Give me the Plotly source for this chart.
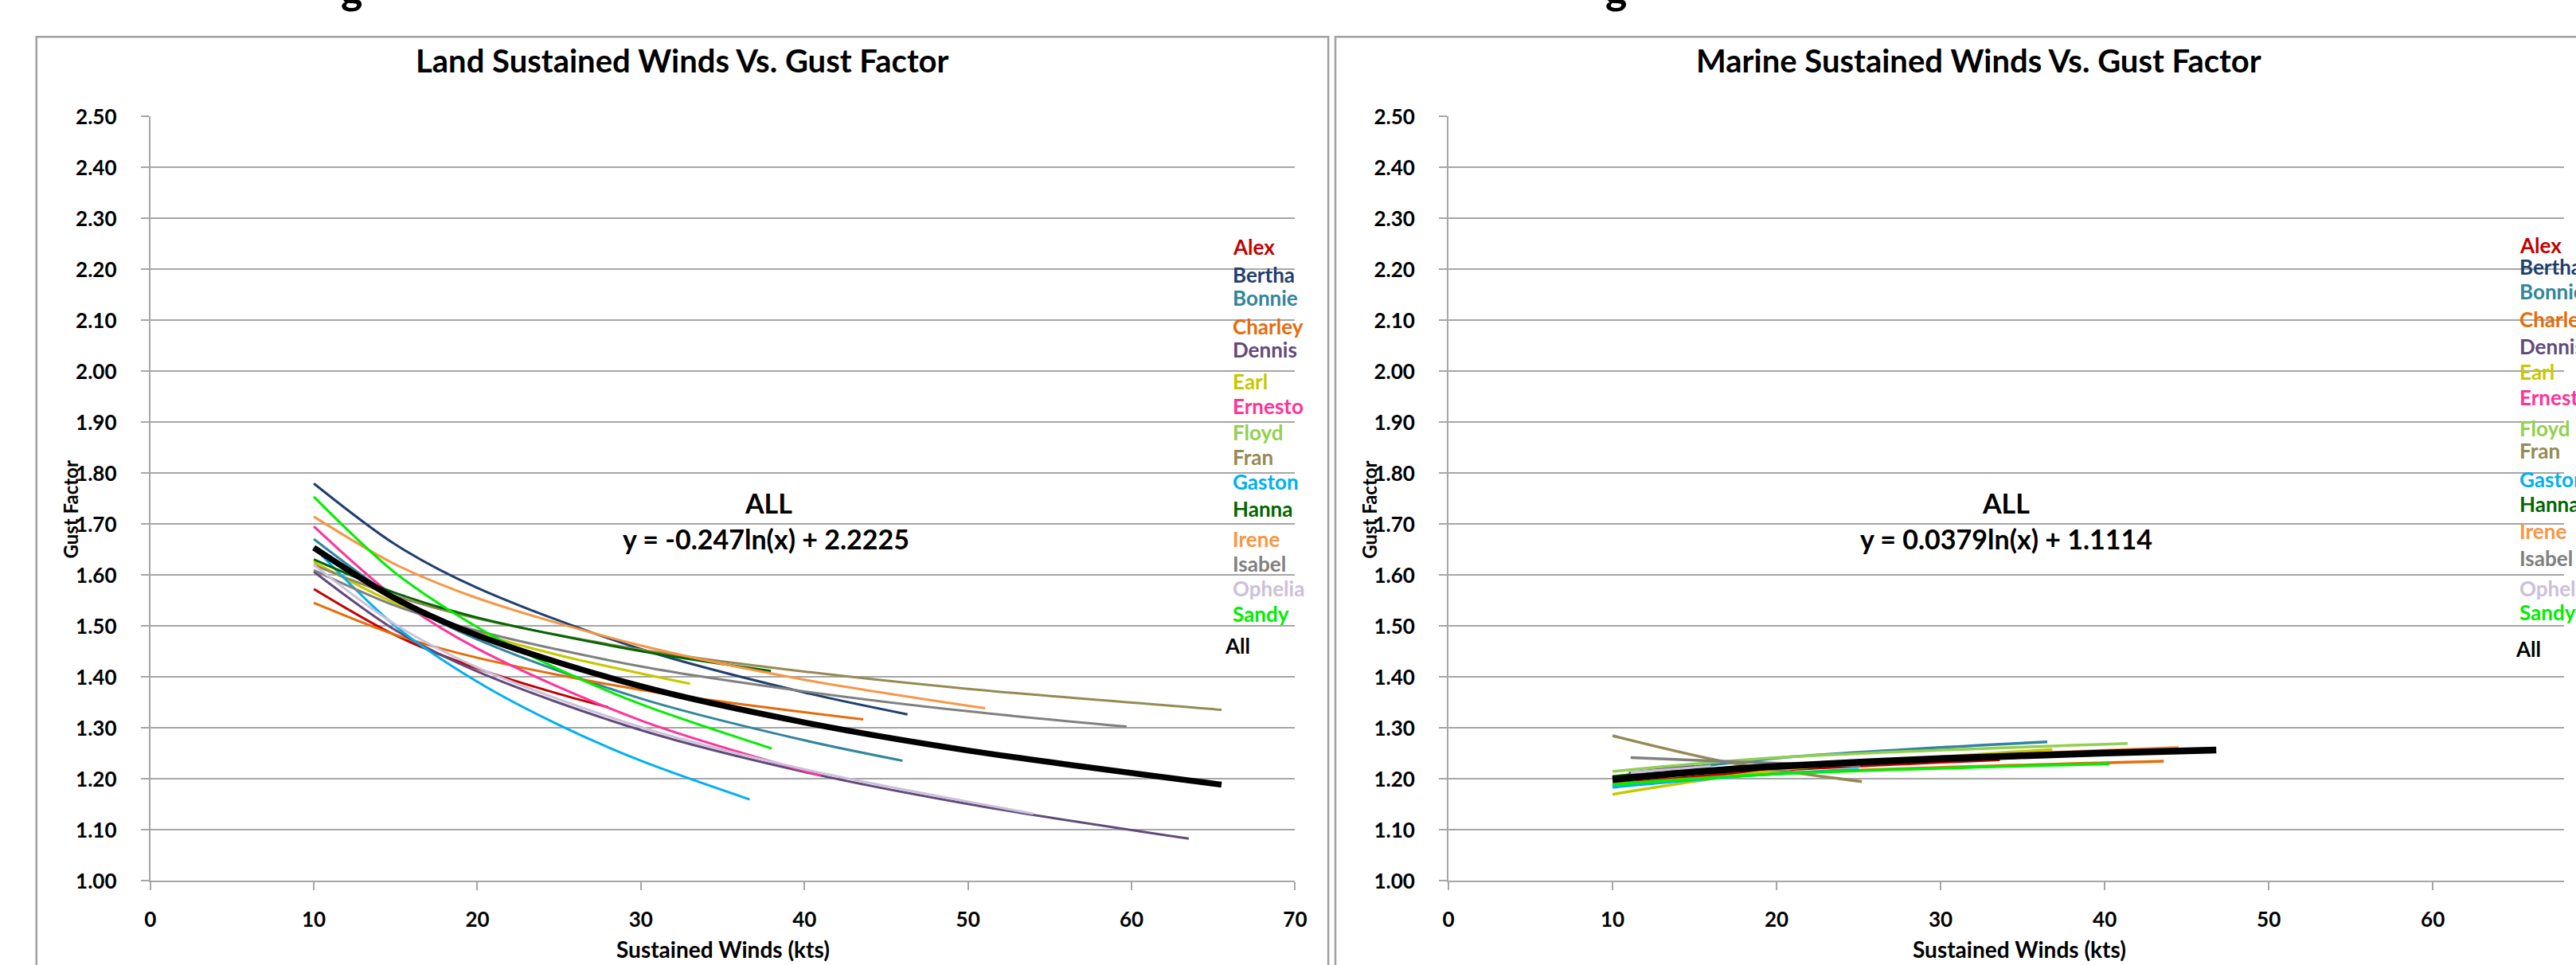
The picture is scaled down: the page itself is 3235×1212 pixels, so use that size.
import plotly.graph_objects as go

# ---------------- data ----------------
STORMS = ["Alex", "Bertha", "Bonnie", "Charley", "Dennis", "Earl", "Ernesto", "Floyd",
          "Fran", "Gaston", "Hanna", "Irene", "Isabel", "Ophelia", "Sandy", "All"]
STORM_COLORS = ["#C00000", "#1F3F6E", "#31859C", "#E46C0A", "#604A7B", "#C8C800", "#FF3399", "#92D050",
                "#948A54", "#00B0F0", "#006600", "#F79646", "#808080", "#CCC0DA", "#00EE00", "#000000"]

X_TICKS = [0, 10, 20, 30, 40, 50, 60, 70]

# Land trend curves (x = sustained winds, y = gust factor)
land_alex_x = [10, 15, 20, 25, 28]
land_alex_y = [1.573, 1.482, 1.417, 1.367, 1.341]
land_bertha_x = [10, 15, 20, 30, 40, 46.3]
land_bertha_y = [1.780, 1.660, 1.575, 1.455, 1.370, 1.327]
land_bonnie_x = [10, 15, 20, 30, 40, 46]
land_bonnie_y = [1.671, 1.555, 1.474, 1.358, 1.276, 1.236]
land_charley_x = [10, 15, 20, 30, 43.6]
land_charley_y = [1.546, 1.483, 1.438, 1.375, 1.317]
land_dennis_x = [10, 15, 20, 30, 40, 50, 63.5]
land_dennis_y = [1.607, 1.492, 1.411, 1.296, 1.214, 1.151, 1.083]
land_earl_x = [10, 15, 20, 25, 33]
land_earl_y = [1.626, 1.545, 1.487, 1.443, 1.387]
land_ernesto_x = [10, 15, 20, 30, 41]
land_ernesto_y = [1.696, 1.556, 1.456, 1.315, 1.207]
land_fran_x = [10, 15, 20, 30, 40, 50, 65.5]
land_fran_y = [1.620, 1.559, 1.515, 1.454, 1.411, 1.377, 1.336]
land_gaston_x = [10, 15, 20, 25, 30, 36.65]
land_gaston_y = [1.655, 1.500, 1.391, 1.306, 1.236, 1.160]
land_hanna_x = [10, 15, 20, 30, 37.95]
land_hanna_y = [1.631, 1.565, 1.517, 1.451, 1.412]
land_irene_x = [10, 15, 20, 30, 40, 51.05]
land_irene_y = [1.715, 1.621, 1.555, 1.462, 1.395, 1.339]
land_isabel_x = [10, 15, 20, 30, 40, 50, 59.7]
land_isabel_y = [1.610, 1.540, 1.491, 1.421, 1.372, 1.333, 1.303]
land_ophelia_x = [10, 15, 20, 30, 40, 54]
land_ophelia_y = [1.620, 1.503, 1.419, 1.302, 1.219, 1.132]
land_sandy_x = [10, 15, 20, 25, 30, 38]
land_sandy_y = [1.754, 1.604, 1.498, 1.415, 1.347, 1.260]
land_all_x = [10, 15, 20, 30, 40, 50, 65.5]
land_all_y = [1.654, 1.554, 1.482, 1.382, 1.311, 1.256, 1.189]

# Marine trend curves
marine_alex_x = [10, 20, 33.6]
marine_alex_y = [1.190, 1.217, 1.238]
marine_bonnie_x = [10, 20, 36.5]
marine_bonnie_y = [1.204, 1.241, 1.273]
marine_charley_x = [10, 20, 43.6]
marine_charley_y = [1.190, 1.211, 1.235]
marine_dennis_x = [11, 15]
marine_dennis_y = [1.212, 1.227]
marine_earl_x = [10, 20, 36.8]
marine_earl_y = [1.170, 1.217, 1.258]
marine_floyd_x = [10, 20, 41.4]
marine_floyd_y = [1.215, 1.242, 1.270]
marine_fran_x = [10, 17, 25.2]
marine_fran_y = [1.285, 1.233, 1.195]
marine_gaston_x = [10, 18, 25]
marine_gaston_y = [1.184, 1.206, 1.219]
marine_hanna_x = [10, 15]
marine_hanna_y = [1.205, 1.220]
marine_irene_x = [10, 20, 44.5]
marine_irene_y = [1.195, 1.226, 1.262]
marine_isabel_x = [11.1, 18, 25.1]
marine_isabel_y = [1.242, 1.233, 1.226]
marine_ophelia_x = [11.1, 16]
marine_ophelia_y = [1.213, 1.225]
marine_sandy_x = [10, 20, 40.3]
marine_sandy_y = [1.189, 1.210, 1.230]
marine_all_x = [10, 15, 20, 30, 40, 46.8]
marine_all_y = [1.199, 1.214, 1.225, 1.240, 1.251, 1.257]

LAND_EQUATION = "y = -0.247ln(x) + 2.2225"
MARINE_EQUATION = "y = 0.0379ln(x) + 1.1114"

# ---------------- layout helpers ----------------
W, H = 3235, 1212
GRID = "#A6A6A6"
FONT = "Lato"


def px(x):
    return x / W


def py(y):
    return 1 - y / H


COLOR = dict(zip(STORMS, STORM_COLORS))

land = [
    ("Alex", land_alex_x, land_alex_y), ("Bertha", land_bertha_x, land_bertha_y),
    ("Bonnie", land_bonnie_x, land_bonnie_y), ("Charley", land_charley_x, land_charley_y),
    ("Dennis", land_dennis_x, land_dennis_y), ("Earl", land_earl_x, land_earl_y),
    ("Ernesto", land_ernesto_x, land_ernesto_y), ("Fran", land_fran_x, land_fran_y),
    ("Gaston", land_gaston_x, land_gaston_y), ("Hanna", land_hanna_x, land_hanna_y),
    ("Irene", land_irene_x, land_irene_y), ("Isabel", land_isabel_x, land_isabel_y),
    ("Ophelia", land_ophelia_x, land_ophelia_y), ("Sandy", land_sandy_x, land_sandy_y),
    ("All", land_all_x, land_all_y),
]
marine = [
    ("Alex", marine_alex_x, marine_alex_y), ("Bonnie", marine_bonnie_x, marine_bonnie_y),
    ("Charley", marine_charley_x, marine_charley_y), ("Dennis", marine_dennis_x, marine_dennis_y),
    ("Earl", marine_earl_x, marine_earl_y), ("Floyd", marine_floyd_x, marine_floyd_y),
    ("Fran", marine_fran_x, marine_fran_y), ("Gaston", marine_gaston_x, marine_gaston_y),
    ("Hanna", marine_hanna_x, marine_hanna_y), ("Irene", marine_irene_x, marine_irene_y),
    ("Isabel", marine_isabel_x, marine_isabel_y), ("Ophelia", marine_ophelia_x, marine_ophelia_y),
    ("Sandy", marine_sandy_x, marine_sandy_y), ("All", marine_all_x, marine_all_y),
]

fig = go.Figure()
for name, xs, ys in land:
    fig.add_trace(go.Scatter(
        x=xs, y=ys, mode="lines", xaxis="x", yaxis="y", name=name,
        line=dict(color=COLOR[name], width=7.5 if name == "All" else 3, shape="spline", smoothing=0.9),
        showlegend=False, hoverinfo="skip"))
for name, xs, ys in marine:
    fig.add_trace(go.Scatter(
        x=xs, y=ys, mode="lines", xaxis="x2", yaxis="y2", name=name,
        line=dict(color=COLOR[name], width=8.5 if name == "All" else 3.5, shape="spline", smoothing=0.9),
        showlegend=False, hoverinfo="skip"))

tickfont = dict(family=FONT, size=26, color="black", weight="bold")
x_common = dict(tickvals=X_TICKS, ticktext=[str(v) for v in X_TICKS], showgrid=False, zeroline=False,
                ticks="outside", ticklen=10, tickwidth=2, tickcolor=GRID, showline=True,
                linecolor=GRID, linewidth=2, tickfont=tickfont, ticklabelstandoff=14, fixedrange=True)
y_common = dict(range=[1.0, 2.5], tick0=1.0, dtick=0.1, tickformat=".2f", showgrid=True,
                gridcolor=GRID, gridwidth=2, zeroline=False, ticks="outside", ticklen=10, tickwidth=2,
                tickcolor=GRID, showline=True, linecolor=GRID, linewidth=2, tickfont=tickfont,
                ticklabelstandoff=25, fixedrange=True)

x2_end = (W - 1824) / 20.75
fig.update_layout(
    width=W, height=H, margin=dict(l=0, r=0, t=0, b=0),
    paper_bgcolor="white", plot_bgcolor="white",
    xaxis=dict(domain=[px(182), px(1630)], range=[0, 70], anchor="y", **x_common),
    yaxis=dict(domain=[py(1119), py(133)], anchor="x", **y_common),
    xaxis2=dict(domain=[px(1824), 1.0], range=[0, x2_end], anchor="y2", **x_common),
    yaxis2=dict(domain=[py(1119), py(133)], anchor="x2", **y_common),
)

# chart borders
border = dict(color="#A0A0A0", width=2.5)
fig.add_shape(type="rect", xref="paper", yref="paper", x0=px(38), x1=px(1672), y0=-0.02, y1=py(30),
              line=border, fillcolor="rgba(0,0,0,0)", layer="below")
fig.add_shape(type="rect", xref="paper", yref="paper", x0=px(1681), x1=1.02, y0=-0.02, y1=py(30),
              line=border, fillcolor="rgba(0,0,0,0)", layer="below")

ann = []


def text(x, y, s, size, color="black", xanchor="center", yanchor="middle", angle=0, xref="paper", yref="paper"):
    ann.append(dict(x=x, y=y, xref=xref, yref=yref, text=s, showarrow=False, xanchor=xanchor,
                    yanchor=yanchor, textangle=angle,
                    font=dict(family=FONT, size=size, color=color, weight="bold")))


# cut-off header descenders at the very top (the header line itself lies above the picture)
text(px(437), py(1), "g", 52, yanchor="bottom")
text(px(2036), py(1), "g", 52, yanchor="bottom")

# chart titles
text(px(855), py(61), "Land Sustained Winds Vs. Gust Factor", 40)
text(px(2495), py(61), "Marine Sustained Winds Vs. Gust Factor", 40)

# trend labels
text(px(964), py(631), "ALL", 34)
text(px(961), py(677), LAND_EQUATION, 34)
text(px(2529), py(631), "ALL", 34)
text(px(2529), py(677), MARINE_EQUATION, 34)

# axis titles
text(px(906), py(1207), "Sustained Winds (kts)", 28)
text(px(2546), py(1207), "Sustained Winds (kts)", 28)
text(px(81), py(640), "Gust Factor", 24, angle=-90)
text(px(1723), py(640), "Gust Factor", 24, angle=-90)

# legends (text only, as in the reference)
LEGEND_Y_LAND = [2.244, 2.190, 2.144, 2.089, 2.043, 1.980, 1.932, 1.880,
                 1.832, 1.783, 1.731, 1.671, 1.623, 1.574, 1.524, 1.462]
LEGEND_Y_MARINE = [2.248, 2.205, 2.157, 2.102, 2.049, 1.999, 1.949, 1.889,
                   1.844, 1.789, 1.740, 1.686, 1.634, 1.574, 1.528, 1.456]
for name, yl, ym in zip(STORMS, LEGEND_Y_LAND, LEGEND_Y_MARINE):
    xl = 1539 if name == "All" else 1549
    xm = 3172 if name == "All" else 3177
    text(px(xl), yl, name, 26, color=COLOR[name], xanchor="left", yref="y")
    text(px(xm), ym, name, 26, color=COLOR[name], xanchor="left", yref="y2")

fig.update_layout(annotations=ann)

fig.write_html("out.html", config={"displayModeBar": False},
               post_script="document.body.style.margin='0';document.body.style.overflow='hidden';")
